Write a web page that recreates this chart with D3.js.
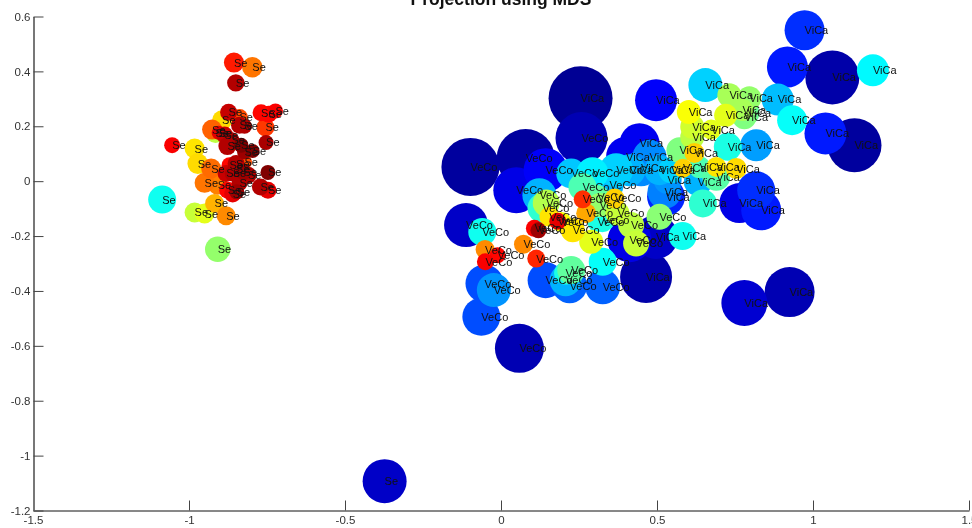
<!DOCTYPE html>
<html><head><meta charset="utf-8">
<style>html,body{margin:0;padding:0;background:#fff;overflow:hidden}svg{display:block;filter:blur(0.35px)}text{font-family:"Liberation Sans",Arial,sans-serif}</style>
<script src="https://cdn.jsdelivr.net/npm/d3@7"></script></head><body>
<script>
const title = "Projection using MDS";
const xTicks = [-1.5,-1,-0.5,0,0.5,1,1.5];
const yTicks = [0.6,0.4,0.2,0,-0.2,-0.4,-0.6,-0.8,-1,-1.2];

const seX = [-.856,-.797,-.850,-.769,-.745,-.723,-.755,-.753,-.873,-.838,-.894,-.915,-.926,-.838,-.822,-.886,-.905,-.877,-.833,-.796,-.822,-.849,-.822,-.811,-.747,-.771,-.747,-.881,-.860,-.849,-.870,-.876,-.860,-.847,-1.054,-.982,-.972,-.950,-.929,-.908,-.918,-.881,-.982,-.950,-1.086,-.908,-.864,-.825,-.838,-.373];
const seY = [.432,.415,.358,.249,.244,.256,.196,.141,.251,.232,.222,.174,.188,.204,.200,.168,.176,.128,.131,.110,.107,.064,.070,.022,.032,-.021,-.033,.028,.028,.046,.058,-.033,-.047,-.039,.131,.119,.064,-.006,.046,-.015,-.081,-.126,-.114,-.118,-.067,-.248,.149,.033,-.007,-1.093];
const seSize = [10,10.3,8.7,8.5,8.5,7.5,9,7.5,8.5,8.5,10,9.5,10,8.5,7.5,8.5,7,9,7.5,7,7.5,8.5,7.5,8.5,7.5,8.5,8.5,8.5,8,8,8,8.5,8.5,7.5,8,10,10.3,10,10,9.5,9.5,9.5,10,10,14,12.7,8,8,8,22];
const seColor = [.85,.76,.95,.87,.87,.88,.82,.96,.93,.8,.66,.56,.78,.95,.95,.93,.9,.95,1,1,.97,.95,.8,.95,1,.95,.9,.93,.95,.95,.87,.87,.9,.97,.88,.65,.66,.76,.77,.75,.7,.74,.57,.6,.39,.52,.95,.97,.95,.07];

const veX = [-.098,.079,.049,.143,-.112,-.060,-.051,-.011,-.050,.072,.113,.107,.120,.182,.262,.143,.220,.207,.225,.207,.326,.326,-.053,-.023,-.063,.059,.225,.293,.369,.261,.123,.133,.145,.155,.230,.289,.364,.309,.309,.273,.373,.417,.433,.508,.325,.412,.194,.316,.258,.348];
const veY = [.052,.084,-.033,.040,-.160,-.185,-.249,-.270,-.294,-.230,-.282,-.172,-.179,-.146,-.066,-.361,-.381,-.361,-.324,-.335,-.385,-.294,-.373,-.397,-.494,-.609,.028,.029,.040,-.021,-.051,-.098,-.080,-.130,-.179,-.221,-.063,-.058,-.149,-.117,-.117,-.160,-.227,-.130,-.142,-.215,-.149,-.087,.157,-.015];
const veSize = [29,29,23,22,22,14,9.5,8,8.5,9.5,9,8.5,8,8.5,9,18,17.5,16,14,11.5,17.5,14,19,17,19,24.5,15,16,17,14,17,15,13.5,10,12,12,10,12,10,10,12,13,13,13,12,22,10,12,26,14];
const veColor = [.03,.03,.1,.12,.07,.39,.74,.87,.88,.74,.84,.88,.97,.9,.83,.2,.22,.3,.47,.4,.22,.38,.2,.27,.2,.05,.32,.36,.33,.45,.3,.42,.55,.65,.65,.6,.67,.47,.4,.71,.57,.56,.57,.51,.4,.1,.62,.52,.05,.3];

const viX = [.255,.465,.780,.925,.973,.918,1.062,1.192,.655,.497,.732,.796,.887,.933,1.040,1.133,.602,.613,.720,.790,.774,.818,.727,.572,.620,.583,.690,.754,.631,.690,.647,.764,.818,.834,.444,.401,.476,.449,.529,.524,.582,.497,.613,.674,.636,.780,.508,.412,.534,.546];
const viY = [.302,-.349,-.444,-.404,.550,.416,.378,.404,.350,.295,.313,.302,.298,.222,.174,.131,.252,.198,.240,.248,.259,.131,.125,.113,.103,.047,.052,.046,-.003,.016,-.081,-.080,-.033,-.106,.138,.089,.089,.047,-.057,-.039,-.200,-.203,.161,.188,.051,.233,.040,.040,.004,.040];
const viSize = [32,26,23,25,20,20.5,27,16,17,21,12,12,16,15,21,27,12,12,11.5,12,11,16,14,13,10,9.5,10,10.5,14,14,14,20,19,20,20,20,17,18,19,17,14,22,12,10,11,12,15,16,14,13];
const viColor = [.02,.04,.08,.05,.17,.15,.04,.37,.33,.12,.54,.52,.31,.38,.15,.03,.62,.58,.6,.48,.54,.28,.4,.5,.67,.67,.65,.66,.3,.46,.42,.1,.17,.15,.11,.11,.26,.26,.16,.25,.39,.07,.56,.6,.45,.5,.3,.3,.27,.33];

const W = 972, H = 528;
const x = d3.scaleLinear().domain([-1.5,1.5]).range([33,969]);
const y = d3.scaleLinear().domain([-1.2,0.6]).range([510.5,16.5]);
const radius = d3.scaleLinear().domain([0,40]).range([0,40]);
const jet = d3.scaleLinear().domain([0,.125,.375,.625,.875,1])
  .range(["#000080","#0000ff","#00ffff","#ffff00","#ff0000","#800000"]);

const groups = [["Se",seX,seY,seSize,seColor],["VeCo",veX,veY,veSize,veColor],["ViCa",viX,viY,viSize,viColor]];
const points = groups.flatMap(([label,xs,ys,ss,cs]) => xs.map((v,i)=>({label,x:v,y:ys[i],s:ss[i],c:cs[i]})));
const ordered = d3.sort(points, d=>d.c);

const svg = d3.select("body").append("svg").attr("width",W).attr("height",H);

svg.append("g").selectAll("circle").data(ordered).join("circle")
  .attr("cx",d=>x(d.x)).attr("cy",d=>y(d.y)).attr("r",d=>radius(d.s)).attr("fill",d=>jet(d.c));

svg.append("g").selectAll("text").data(ordered).join("text")
  .attr("x",d=>x(d.x)).attr("y",d=>y(d.y)+4).attr("font-size",11).attr("fill","#111").text(d=>d.label);

const fmt = d => String(d);
const axB = d3.axisBottom(x).tickValues(xTicks).tickFormat(fmt).tickSizeInner(-10).tickSizeOuter(0).tickPadding(8);
const axL = d3.axisLeft(y).tickValues(yTicks).tickFormat(fmt).tickSizeInner(-10).tickSizeOuter(0).tickPadding(3);
const gb = svg.append("g").attr("transform","translate(0,510.5)").call(axB);
const gl = svg.append("g").attr("transform","translate(33.5,0)").call(axL);
gb.selectAll("text").attr("font-size",11.5).attr("fill","#333").attr("dy","0.5em").style("font-family",'"Liberation Sans",Arial,sans-serif');
gl.selectAll("text").attr("font-size",11.5).attr("fill","#333").style("font-family",'"Liberation Sans",Arial,sans-serif');
gb.selectAll("line").attr("stroke","#444");
gl.selectAll("line").attr("stroke","#444");
gb.select(".domain").attr("stroke","#111").attr("stroke-width",1);
gl.select(".domain").attr("stroke","#777").attr("stroke-width",2);

svg.append("text").attr("x",501).attr("y",5).attr("text-anchor","middle")
  .attr("font-size",17.5).attr("font-weight","bold").attr("fill","#111").text(title);
</script></body></html>
